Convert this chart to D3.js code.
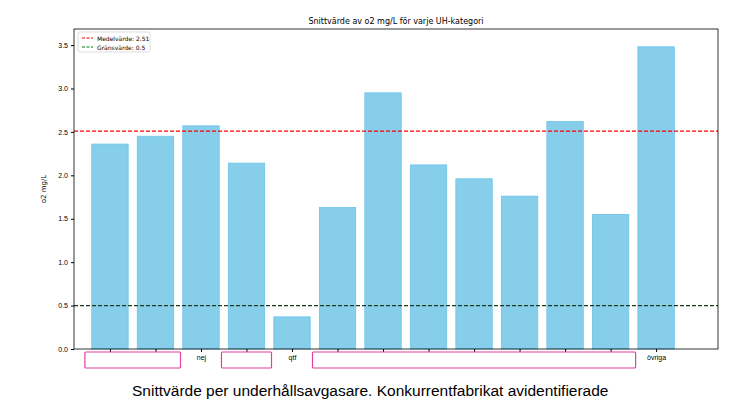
<!DOCTYPE html>
<html><head><meta charset="utf-8">
<script src="https://cdn.jsdelivr.net/npm/d3@7"></script>
<style>body{margin:0;background:#fff}</style>
</head><body><div id="chart"></div>
<script>
const categories = ['', '', 'nej', '', 'qtf', '', '', '', '', '', '', '', 'övriga'];
const values = [2.36, 2.45, 2.57, 2.14, 0.37, 1.63, 2.95, 2.12, 1.96, 1.76, 2.62, 1.55, 3.48];
const yTicks = [0, 0.5, 1.0, 1.5, 2.0, 2.5, 3.0, 3.5];
const meanValue = 2.51, limitValue = 0.5;
// hidden label groups [first index, last index]
const maskGroups = [[0, 1], [3, 3], [5, 11]];

let dim = {width: 746, height: 419};
let svg = d3.select('#chart').append('svg').attr('width', dim.width).attr('height', dim.height)
  .style('font-family', 'DejaVu Sans');

let pLeft = 74, pRight = 718, pTop = 29, pBottom = 349;
let x = d3.scaleLinear().domain([-0.79, 13.36]).range([pLeft, pRight]);
let y = d3.scaleLinear().domain([0, 3.685]).range([pBottom, pTop]);
let bw = x(0.8) - x(0);

svg.selectAll('rect.bar').data(values).join('rect')
  .attr('x', (d, i) => x(i - 0.4)).attr('width', bw)
  .attr('y', d => y(d)).attr('height', d => y(0) - y(d))
  .attr('fill', '#87ceeb').attr('stroke', '#6cc4ea').attr('stroke-width', 0.8);

svg.append('line').attr('x1', pLeft).attr('x2', pRight).attr('y1', y(meanValue)).attr('y2', y(meanValue))
  .attr('stroke', 'red').attr('stroke-dasharray', '4,2').attr('stroke-width', 1.2);
svg.append('line').attr('x1', pLeft).attr('x2', pRight).attr('y1', y(limitValue)).attr('y2', y(limitValue))
  .attr('stroke', '#1a3a1a').attr('stroke-dasharray', '4,2').attr('stroke-width', 1.2);

let ya = svg.append('g').attr('transform', `translate(${pLeft},0)`)
  .call(d3.axisLeft(y).tickValues(yTicks).tickFormat(d3.format('.1f')).tickSize(3));
ya.selectAll('text').attr('font-size', 7);
let xa = svg.append('g').attr('transform', `translate(0,${pBottom})`)
  .call(d3.axisBottom(x).tickValues(d3.range(values.length)).tickFormat(i => categories[i]).tickSize(3));
xa.selectAll('text').attr('font-size', 7);
svg.selectAll('.domain').remove();
svg.append('rect').attr('x', pLeft).attr('y', pTop).attr('width', pRight - pLeft).attr('height', pBottom - pTop)
  .attr('fill', 'none').attr('stroke', '#000').attr('stroke-width', 0.8);

svg.append('text').attr('x', (pLeft + pRight) / 2).attr('y', pTop - 5).attr('text-anchor', 'middle')
  .attr('font-size', 8).text('Snittvärde av o2 mg/L för varje UH-kategori');
svg.append('text').attr('transform', `translate(46,${(pTop + pBottom) / 2}) rotate(-90)`)
  .attr('text-anchor', 'middle').attr('font-size', 7).text('o2 mg/L');

// legend
let lg = svg.append('g').attr('transform', `translate(${pLeft + 4},${pTop + 3})`);
lg.append('rect').attr('width', 72).attr('height', 20).attr('fill', '#fff').attr('stroke', '#ddd').attr('rx', 2);
[['Medelvärde: 2.51', 'red'], ['Gränsvärde: 0.5', 'green']].forEach((d, i) => {
  lg.append('line').attr('x1', 4).attr('x2', 15).attr('y1', 6 + i * 9).attr('y2', 6 + i * 9)
    .attr('stroke', d[1]).attr('stroke-dasharray', '3,1.5').attr('stroke-width', 1.2);
  lg.append('text').attr('x', 19).attr('y', 8.5 + i * 9).attr('font-size', 6).text(d[0]);
});

svg.selectAll('rect.mask').data(maskGroups).join('rect')
  .attr('x', d => x(d[0] - 0.55)).attr('width', d => x(d[1] + 0.55) - x(d[0] - 0.55))
  .attr('y', 352).attr('height', 16).attr('fill', '#fff').attr('stroke', '#e040a0').attr('stroke-width', 1.2).attr('rx', 1);

svg.append('text').attr('x', 132).attr('y', 396).attr('font-family', 'Liberation Sans').attr('font-size', 15.5)
  .text('Snittvärde per underhållsavgasare. Konkurrentfabrikat avidentifierade');
</script></body></html>
